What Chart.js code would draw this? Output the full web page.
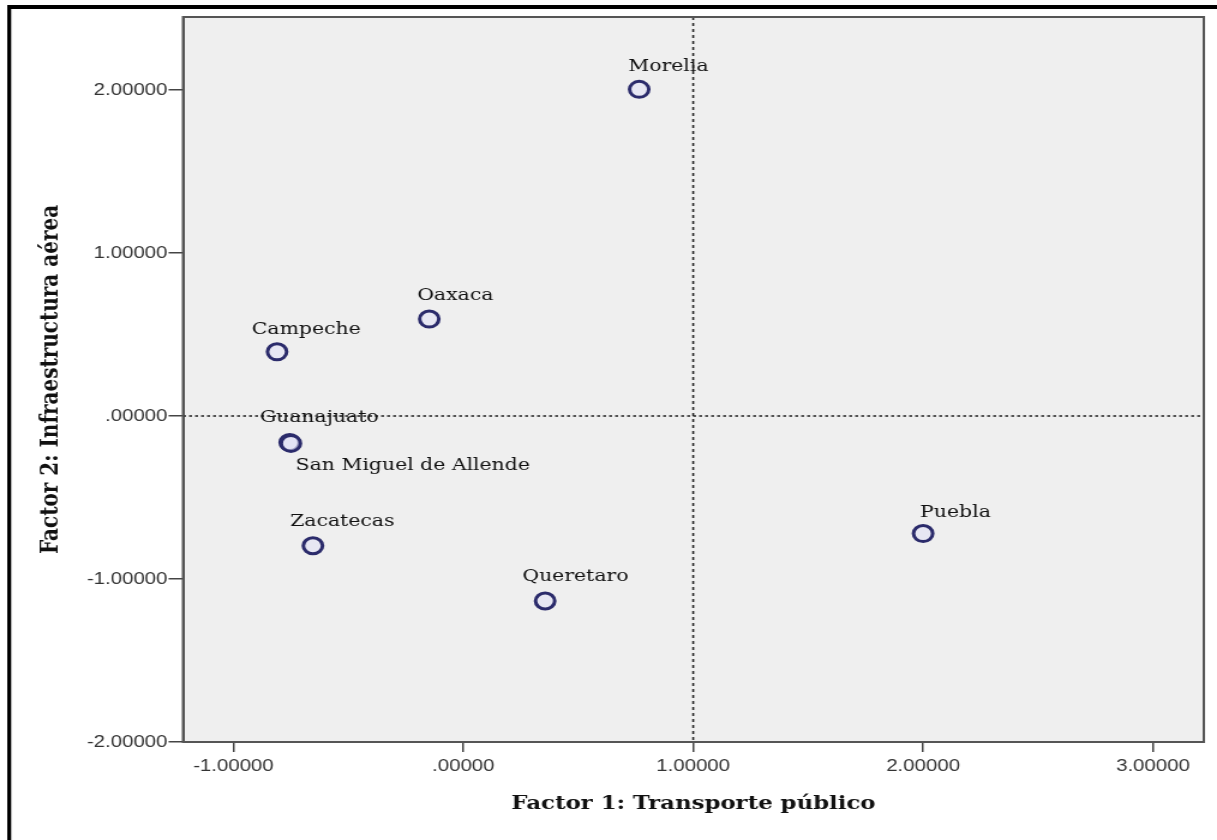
<!DOCTYPE html>
<html>
<head>
<meta charset="utf-8">
<script src="https://cdn.jsdelivr.net/npm/chart.js@4.4.1/dist/chart.umd.min.js"></script>
<style>
html, body { margin: 0; padding: 0; background: #fff; }
#chart1 { display: block; }
</style>
</head>
<body>
<!-- the reference is stretched sideways, so the canvas is drawn narrower and widened by its inline style -->
<canvas id="chart1" width="1014" height="840" style="width:1217px;height:840px;"></canvas>
<script>
var cities = ["Morelia", "Oaxaca", "Campeche", "Guanajuato", "San Miguel de Allende", "Zacatecas", "Queretaro", "Puebla"];
var factor1 = [0.765, -0.148, -0.810, -0.755, -0.750, -0.654, 0.356, 2.000];
var factor2 = [2.004, 0.595, 0.394, -0.163, -0.168, -0.796, -1.135, -0.721];
var xTicks = [-1, 0, 1, 2, 3];
var yTicks = [-2, -1, 0, 1, 2];
var xRange = [-1.219, 3.221];
var yRange = [-2, 2.448];
var refX = 1;
var refY = 0;
var xTitle = "Factor 1: Transporte público";
var yTitle = "Factor 2: Infraestructura aérea";

// label offsets from the marker centre (canvas px)
var labelOffsets = [[-9, -23], [-10, -23], [-21, -22], [-25, -25], [4, 22], [-19, -24], [-19, -24], [-2.5, -21]];

function fmt(v) {
    if (v === 0) return ".00000";
    return v.toFixed(5);
}

var points = [];
for (var i = 0; i < cities.length; i++) {
    points.push({ x: factor1[i], y: factor2[i] });
}

var spssDecor = {
    id: 'spssDecor',
    beforeDraw: function (chart) {
        var ctx = chart.ctx, a = chart.chartArea;
        ctx.save();
        ctx.fillStyle = '#efefef';
        ctx.fillRect(a.left, a.top, a.right - a.left, a.bottom - a.top);
        // outer frame (only left and top show in the crop)
        ctx.fillStyle = '#000';
        ctx.fillRect(6, 5, 3.3, 840);
        ctx.fillRect(6, 5, 1014, 4);
        ctx.restore();
    },
    beforeDatasetsDraw: function (chart) {
        var ctx = chart.ctx, a = chart.chartArea;
        var px = chart.scales.x.getPixelForValue(refX);
        var py = chart.scales.y.getPixelForValue(refY);
        ctx.save();
        ctx.strokeStyle = '#222';
        ctx.lineWidth = 1.6;
        ctx.setLineDash([3, 3]);
        ctx.beginPath();
        ctx.moveTo(px, a.top);
        ctx.lineTo(px, a.bottom);
        ctx.stroke();
        ctx.setLineDash([2.5, 2.5]);
        ctx.beginPath();
        ctx.moveTo(a.left, py);
        ctx.lineTo(a.right, py);
        ctx.stroke();
        ctx.restore();
    },
    afterDatasetsDraw: function (chart) {
        var ctx = chart.ctx;
        var meta = chart.getDatasetMeta(0);
        ctx.save();
        ctx.font = '17px "DejaVu Serif"';
        ctx.fillStyle = '#111';
        ctx.textBaseline = 'middle';
        ctx.textAlign = 'left';
        meta.data.forEach(function (pt, i) {
            ctx.fillText(cities[i], pt.x + labelOffsets[i][0], pt.y + labelOffsets[i][1]);
        });
        ctx.restore();
    },
    afterDraw: function (chart) {
        var ctx = chart.ctx, a = chart.chartArea;
        ctx.save();
        ctx.strokeStyle = '#555';
        ctx.lineWidth = 2;
        ctx.strokeRect(a.left, a.top, a.right - a.left, a.bottom - a.top);
        ctx.restore();
    }
};

new Chart(document.getElementById("chart1").getContext("2d"), {
    type: 'scatter',
    data: {
        datasets: [{
            label: "Ciudades",
            data: points,
            pointRadius: 8,
            pointHoverRadius: 8,
            borderWidth: 3,
            pointBorderWidth: 3,
            borderColor: '#2b2b6b',
            backgroundColor: 'rgba(225, 225, 245, 0.6)'
        }]
    },
    options: {
        responsive: false,
        animation: false,
        layout: { padding: { left: 0, right: 8.6, top: 17, bottom: 0 } },
        plugins: {
            legend: { display: false },
            tooltip: { enabled: false }
        },
        scales: {
            x: {
                type: 'linear',
                min: xRange[0],
                max: xRange[1],
                afterBuildTicks: function (s) { s.ticks = xTicks.map(function (v) { return { value: v }; }); },
                afterFit: function (s) { s.height = 98; },
                grid: { drawOnChartArea: false, drawTicks: true, tickLength: 10, color: '#444', lineWidth: 1.5 },
                border: { display: true, color: '#555', width: 2 },
                ticks: {
                    autoSkip: false, maxRotation: 0, padding: 4,
                    color: '#333',
                    font: { family: '"Liberation Sans", Arial', size: 17 },
                    callback: fmt
                },
                title: {
                    display: true, text: xTitle, color: '#111',
                    font: { family: '"DejaVu Serif"', size: 19, weight: 'bold' },
                    padding: { top: 0, bottom: 25 }
                }
            },
            y: {
                type: 'linear',
                min: yRange[0],
                max: yRange[1],
                afterBuildTicks: function (s) { s.ticks = yTicks.map(function (v) { return { value: v }; }); },
                afterFit: function (s) { s.width = 152.5; },
                grid: { drawOnChartArea: false, drawTicks: true, tickLength: 12, color: '#444', lineWidth: 1.5 },
                border: { display: true, color: '#555', width: 2 },
                ticks: {
                    autoSkip: false, padding: 1,
                    color: '#333',
                    font: { family: '"Liberation Sans", Arial', size: 17 },
                    callback: fmt
                },
                title: {
                    display: true, text: yTitle, color: '#111',
                    font: { family: '"DejaVu Serif"', size: 20, weight: 'bold' },
                    padding: { top: 31, bottom: 0 }
                }
            }
        }
    },
    plugins: [spssDecor]
});
</script>
</body>
</html>
